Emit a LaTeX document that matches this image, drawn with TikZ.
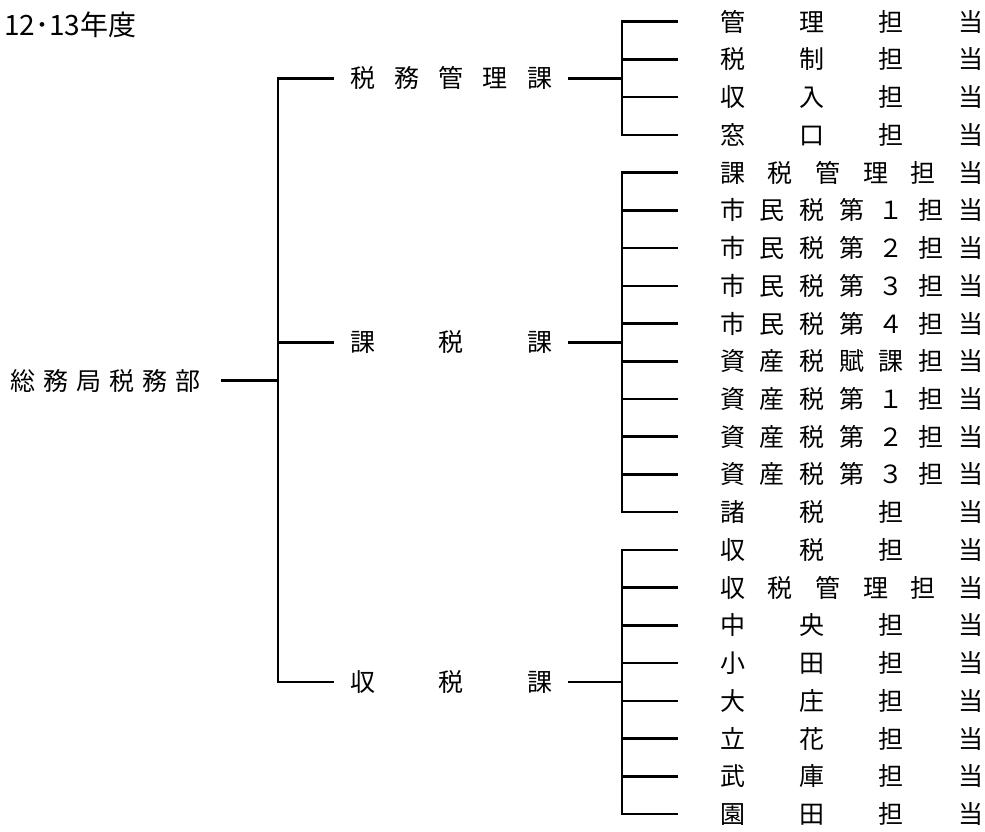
\documentclass[tikz,border=0pt]{standalone}
\usepackage{fontspec}
\setmainfont{Noto Sans CJK JP}
\usetikzlibrary{positioning}
\newcommand{\spread}[2]{\makebox[#1][s]{#2}}

\begin{document}
\begin{tikzpicture}[x=1pt,y=-1pt,
  tree/.style={line width=2.5pt},
  lbl/.style={anchor=west,inner sep=0pt,font=\fontsize{25}{25}\selectfont}]
  \useasboundingbox (0,0) rectangle (985,831);

  \node [anchor=west,inner sep=0pt,font=\fontsize{28}{28}\selectfont] (year) at (4,25) {12･13年度};

  \node [lbl] (root) at (10,380.5) {\spread{190pt}{総 務 局 税 務 部}};
  \coordinate (trunk) at (278,380.5);

  \node [lbl] (kanri) at (350,78.3) {\spread{202pt}{税 務 管 理 課}};
  \node [lbl] (kazei) at (350,342.4) {\spread{202pt}{課 税 課}};
  \node [lbl] (shuzei) at (350,682) {\spread{202pt}{収 税 課}};

  \coordinate (fk) at (622,78.3);
  \coordinate (fz) at (622,342.4);
  \coordinate (fs) at (622,682);

  \foreach \t [count=\i] in {管 理 担 当, 税 制 担 当, 収 入 担 当, 窓 口 担 当,
      課 税 管 理 担 当, 市 民 税 第 １ 担 当, 市 民 税 第 ２ 担 当,
      市 民 税 第 ３ 担 当, 市 民 税 第 ４ 担 当, 資 産 税 賦 課 担 当,
      資 産 税 第 １ 担 当, 資 産 税 第 ２ 担 当, 資 産 税 第 ３ 担 当,
      諸 税 担 当, 収 税 担 当, 収 税 管 理 担 当, 中 央 担 当, 小 田 担 当,
      大 庄 担 当, 立 花 担 当, 武 庫 担 当, 園 田 担 当}{
    \node [lbl] (team-\i) at (720,{21.7+37.73*(\i-1)}) {\spread{263pt}{\t}};
  };

  \draw [tree,shorten <=21pt] (root.east) -- (trunk);
  \foreach \m in {kanri,kazei,shuzei}{
    \draw [tree,shorten >=16pt] (trunk) |- (\m.west);
  };
  \draw [tree,shorten <=16pt] (kanri.east) -- (fk);
  \draw [tree,shorten <=16pt] (kazei.east) -- (fz);
  \draw [tree,shorten <=16pt] (shuzei.east) -- (fs);

  \foreach \i in {1,...,4}{
    \draw [tree,shorten >=42pt] (fk) |- (team-\i.west);
  };
  \foreach \i in {5,...,14}{
    \draw [tree,shorten >=42pt] (fz) |- (team-\i.west);
  };
  \foreach \i in {15,...,22}{
    \draw [tree,shorten >=42pt] (fs) |- (team-\i.west);
  };
\end{tikzpicture}
\end{document}
